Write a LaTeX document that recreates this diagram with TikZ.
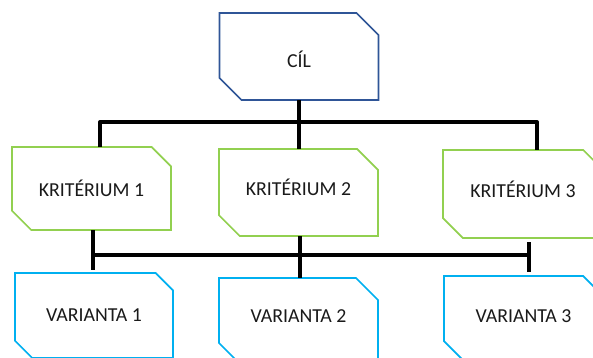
\documentclass[tikz,border=0pt]{standalone}
\usepackage{fontspec}
\setmainfont{Carlito}
\usetikzlibrary{shapes.misc}
\definecolor{cilblue}{HTML}{2F5597}
\definecolor{krgreen}{HTML}{92D050}
\definecolor{varcyan}{HTML}{00B0F0}
\definecolor{txt}{HTML}{1A1A1A}
\tikzset{
  box/.style={chamfered rectangle, chamfered rectangle corners={north east,south west},
    chamfered rectangle xsep=11pt, chamfered rectangle ysep=11pt,
    line width=1.7pt, fill=white, inner sep=0pt, outer sep=0pt,
    minimum width=159pt, text=txt, font=\fontsize{19.8}{23}\selectfont,
    text height=12.6pt, text depth=0pt},
  cilbox/.style={box, draw=cilblue},
  krbox/.style={box, draw=krgreen},
  varbox/.style={box, draw=varcyan},
  conn/.style={line width=4pt, black, line join=round}
}
\begin{document}
\begin{tikzpicture}[x=1pt,y=-1pt]
\useasboundingbox (0,0) rectangle (593,357);
\node[cilbox, minimum height=87pt, text height=22.6pt] (cil) at (299,56.5) {CÍL};
\node[krbox, minimum height=83pt, text height=16.6pt] (k1) at (91.5,188.5) {KRITÉRIUM 1};
\node[krbox, minimum height=87pt, text depth=7pt] (k2) at (298.5,192.5) {KRITÉRIUM 2};
\node[krbox, minimum height=88pt, minimum width=160pt, text depth=5pt] (k3) at (523,194) {KRITÉRIUM 3};
\node[varbox, minimum height=85pt, minimum width=158pt] (v1) at (94,315.5) {VARIANTA 1};
\node[varbox, minimum height=87pt, text depth=10pt] (v2) at (298.5,321.5) {VARIANTA 2};
\node[varbox, minimum height=85pt, text depth=5pt] (v3) at (523.5,318.5) {VARIANTA 3};
\coordinate (tl) at (100,122);
\coordinate (tr) at (537,122);
\coordinate (bl) at (93,255);
\coordinate (br) at (529,255);
\coordinate (blb) at (93,270);
\coordinate (brt) at (529,242);
\coordinate (brb) at (529,272);
% top bus
\draw[conn] (tl |- k1.north) -- (tl) -- (tr) -- (tr |- k3.north);
\draw[conn] (cil.south) -- (cil.south |- k2.north);
% bottom bus
\draw[conn] (bl |- k1.south) -- (blb);
\draw[conn] (bl) -- (br);
\draw[conn] (brt) -- (brb);
\draw[conn] (k2.south -| 300,0) -- (v2.north -| 300,0);
\end{tikzpicture}
\end{document}
